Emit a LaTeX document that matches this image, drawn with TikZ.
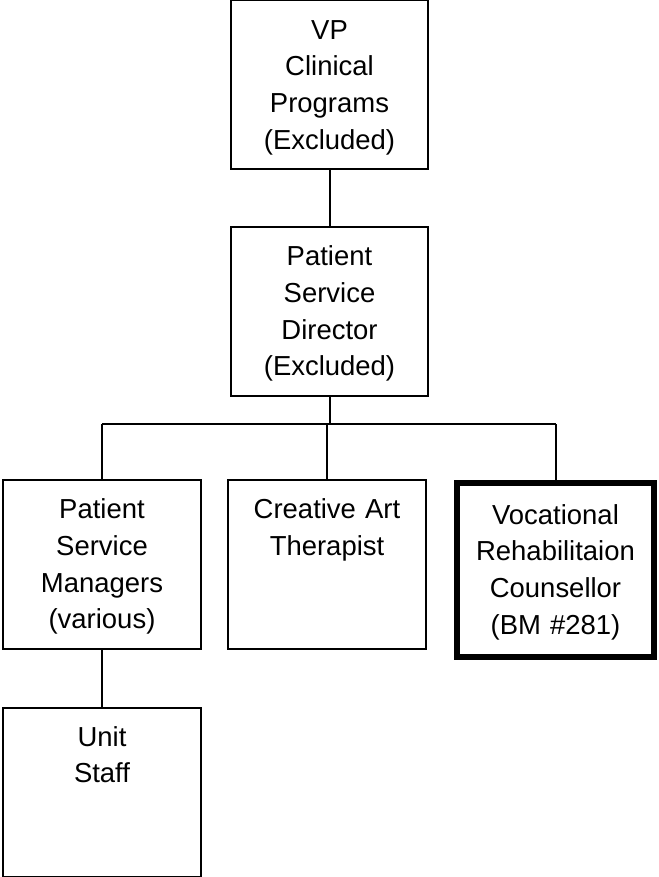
\documentclass[tikz,border=0pt]{standalone}
\usepackage{fontspec}
\setmainfont{Liberation Sans}
\usepackage{tikz}

\begin{document}
\begin{tikzpicture}[x=0.75pt, y=-0.75pt,
		post/.style={draw, line width=1.5pt, align=center, text width=140pt, inner xsep=4pt, inner ysep=11pt,
			text height=18pt, text depth=86.75pt, font=\fontsize{20.6}{27.5}\selectfont},
		postmark/.style={post, line width=4.5pt, inner ysep=13pt}]
			\useasboundingbox (0, 0) rectangle (658, 877);
			\node[post] (vp) at (329.5, 85) {VP\\Clinical\\Programs\\(Excluded)};
			\node[post] (psd) at (329.5, 311.5) {Patient\\Service\\Director\\(Excluded)};
			\node[post] (psm) at (102, 564.5) {Patient\\Service\\Managers\\(various)};
			\node[post] (cat) at (327, 564.5) {Creative Art\\Therapist};
			\node[postmark] (vrc) at (555.5, 570) {Vocational\\Rehabilitaion\\Counsellor\\(BM \#281)};
			\node[post] (us) at (102, 792) {Unit\\Staff};
			\coordinate (bus) at (328, 424);
			\draw[line width=1.5pt] (vp) -- (psd);
			\draw[line width=1.5pt] (psd.south) -- (psd.south |- bus);
			\draw[line width=1.5pt] (psm.north |- bus) -- (vrc.north |- bus);
			\foreach \n in {psm, cat, vrc}
				\draw[line width=1.5pt] (\n.north) -- (\n.north |- bus);
			\draw[line width=1.5pt] (psm) -- (us);
		\end{tikzpicture}
\end{document}
